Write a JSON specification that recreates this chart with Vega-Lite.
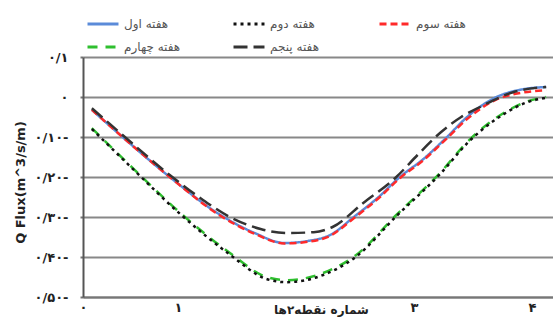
{
  "$schema": "https://vega.github.io/schema/vega-lite/v6.json",
  "width": 470,
  "height": 240,
  "autosize": {"type": "none"},
  "padding": {"left": 83, "top": 57, "right": 0, "bottom": 22},
  "background": "white",
  "config": {"view": {"stroke": null}},
  "data": {
    "values": [
      {"s": "هفته اول", "x": 0.27, "v": -0.032},
      {"s": "هفته اول", "x": 0.53, "v": -0.1},
      {"s": "هفته اول", "x": 0.93, "v": -0.2},
      {"s": "هفته اول", "x": 1.36, "v": -0.295},
      {"s": "هفته اول", "x": 1.65, "v": -0.34},
      {"s": "هفته اول", "x": 1.9, "v": -0.365},
      {"s": "هفته اول", "x": 2.1, "v": -0.36},
      {"s": "هفته اول", "x": 2.29, "v": -0.345},
      {"s": "هفته اول", "x": 2.49, "v": -0.3},
      {"s": "هفته اول", "x": 2.7, "v": -0.25},
      {"s": "هفته اول", "x": 2.88, "v": -0.2},
      {"s": "هفته اول", "x": 3.08, "v": -0.155},
      {"s": "هفته اول", "x": 3.28, "v": -0.1},
      {"s": "هفته اول", "x": 3.45, "v": -0.05},
      {"s": "هفته اول", "x": 3.7, "v": 0.0},
      {"s": "هفته اول", "x": 3.9, "v": 0.018},
      {"s": "هفته اول", "x": 4.12, "v": 0.025},

      {"s": "هفته سوم", "x": 0.27, "v": -0.032},
      {"s": "هفته سوم", "x": 0.53, "v": -0.1},
      {"s": "هفته سوم", "x": 0.93, "v": -0.2},
      {"s": "هفته سوم", "x": 1.36, "v": -0.297},
      {"s": "هفته سوم", "x": 1.65, "v": -0.342},
      {"s": "هفته سوم", "x": 1.9, "v": -0.366},
      {"s": "هفته سوم", "x": 2.1, "v": -0.362},
      {"s": "هفته سوم", "x": 2.29, "v": -0.347},
      {"s": "هفته سوم", "x": 2.49, "v": -0.303},
      {"s": "هفته سوم", "x": 2.7, "v": -0.253},
      {"s": "هفته سوم", "x": 2.88, "v": -0.203},
      {"s": "هفته سوم", "x": 3.08, "v": -0.158},
      {"s": "هفته سوم", "x": 3.28, "v": -0.103},
      {"s": "هفته سوم", "x": 3.45, "v": -0.055},
      {"s": "هفته سوم", "x": 3.7, "v": -0.006},
      {"s": "هفته سوم", "x": 3.9, "v": 0.01},
      {"s": "هفته سوم", "x": 4.12, "v": 0.017},

      {"s": "هفته چهارم", "x": 0.27, "v": -0.078},
      {"s": "هفته چهارم", "x": 0.59, "v": -0.17},
      {"s": "هفته چهارم", "x": 1.02, "v": -0.29},
      {"s": "هفته چهارم", "x": 1.44, "v": -0.39},
      {"s": "هفته چهارم", "x": 1.75, "v": -0.45},
      {"s": "هفته چهارم", "x": 1.92, "v": -0.458},
      {"s": "هفته چهارم", "x": 2.23, "v": -0.44},
      {"s": "هفته چهارم", "x": 2.51, "v": -0.395},
      {"s": "هفته چهارم", "x": 2.85, "v": -0.295},
      {"s": "هفته چهارم", "x": 3.22, "v": -0.19},
      {"s": "هفته چهارم", "x": 3.47, "v": -0.107},
      {"s": "هفته چهارم", "x": 3.76, "v": -0.04},
      {"s": "هفته چهارم", "x": 3.95, "v": -0.012},
      {"s": "هفته چهارم", "x": 4.12, "v": 0.0},

      {"s": "هفته دوم", "x": 0.27, "v": -0.08},
      {"s": "هفته دوم", "x": 0.59, "v": -0.172},
      {"s": "هفته دوم", "x": 1.02, "v": -0.293},
      {"s": "هفته دوم", "x": 1.44, "v": -0.394},
      {"s": "هفته دوم", "x": 1.75, "v": -0.455},
      {"s": "هفته دوم", "x": 1.92, "v": -0.463},
      {"s": "هفته دوم", "x": 2.23, "v": -0.445},
      {"s": "هفته دوم", "x": 2.51, "v": -0.399},
      {"s": "هفته دوم", "x": 2.85, "v": -0.298},
      {"s": "هفته دوم", "x": 3.22, "v": -0.193},
      {"s": "هفته دوم", "x": 3.47, "v": -0.11},
      {"s": "هفته دوم", "x": 3.76, "v": -0.043},
      {"s": "هفته دوم", "x": 3.95, "v": -0.014},
      {"s": "هفته دوم", "x": 4.12, "v": -0.002},

      {"s": "هفته پنجم", "x": 0.27, "v": -0.028},
      {"s": "هفته پنجم", "x": 0.53, "v": -0.095},
      {"s": "هفته پنجم", "x": 0.93, "v": -0.195},
      {"s": "هفته پنجم", "x": 1.2, "v": -0.255},
      {"s": "هفته پنجم", "x": 1.44, "v": -0.3},
      {"s": "هفته پنجم", "x": 1.7, "v": -0.33},
      {"s": "هفته پنجم", "x": 1.92, "v": -0.34},
      {"s": "هفته پنجم", "x": 2.15, "v": -0.338},
      {"s": "هفته پنجم", "x": 2.31, "v": -0.325},
      {"s": "هفته پنجم", "x": 2.57, "v": -0.265},
      {"s": "هفته پنجم", "x": 2.85, "v": -0.2},
      {"s": "هفته پنجم", "x": 3.03, "v": -0.145},
      {"s": "هفته پنجم", "x": 3.22, "v": -0.09},
      {"s": "هفته پنجم", "x": 3.4, "v": -0.05},
      {"s": "هفته پنجم", "x": 3.56, "v": -0.025},
      {"s": "هفته پنجم", "x": 3.84, "v": 0.012},
      {"s": "هفته پنجم", "x": 4.12, "v": 0.025}
    ]
  },
  "mark": {"type": "line", "interpolate": "monotone", "strokeWidth": 2.5, "clip": true},
  "encoding": {
    "x": {
      "field": "x", "type": "quantitative",
      "scale": {"domain": [0.195, 4.178], "nice": false, "zero": false},
      "axis": {
        "values": [0.195, 1, 3, 4],
        "labelExpr": "datum.value < 0.5 ? '٠' : datum.value == 1 ? '١' : datum.value == 3 ? '٣' : '۴'",
        "grid": false, "ticks": false,
        "domainColor": "#777", "domainWidth": 2,
        "labelFont": "DejaVu Sans", "labelFontSize": 13, "labelFontWeight": "bold", "labelColor": "#222",
        "labelPadding": 4, "labelBaseline": "top", "labelFlush": false,
        "title": "شماره نقطه۲ها",
        "titleFont": "DejaVu Sans", "titleFontSize": 12, "titleFontWeight": "bold", "titleColor": "#222",
        "titleX": 238, "titleY": 12, "titleBaseline": "middle", "titleAnchor": null
      }
    },
    "y": {
      "field": "v", "type": "quantitative",
      "scale": {"domain": [-0.5, 0.1], "nice": false, "zero": false},
      "axis": {
        "values": [0.1, 0, -0.1, -0.2, -0.3, -0.4, -0.5],
        "labelExpr": "['٠/۵٠-','٠/۴٠-','٠/٣٠-','٠/٢٠-','٠/١٠-','٠','٠/١'][round(datum.value*10)+5]",
        "grid": true, "gridColor": "#888", "gridWidth": 2,
        "domainColor": "#555", "domainWidth": 2,
        "ticks": true, "tickSize": 3, "tickColor": "#777", "tickWidth": 2,
        "labelFont": "DejaVu Sans", "labelFontSize": 13, "labelFontWeight": "bold", "labelColor": "#222",
        "labelPadding": 12,
        "title": "Q Flux(m^3/s/m)",
        "titleFont": "DejaVu Sans", "titleFontSize": 13, "titleFontWeight": "bold", "titleColor": "#222",
        "titleAngle": -90, "titleX": -63, "titleY": 125, "titleBaseline": "middle", "titleAlign": "center"
      }
    },
    "color": {
      "field": "s", "type": "nominal",
      "scale": {
        "domain": ["هفته اول", "هفته دوم", "هفته سوم", "هفته چهارم", "هفته پنجم"],
        "range": ["#5b8bd9", "#111111", "#ff2a2a", "#2fbf2f", "#333333"]
      },
      "legend": {
        "orient": "none", "legendX": 3, "legendY": -50,
        "direction": "horizontal", "columns": 3, "title": null, "gridAlign": "all",
        "symbolType": "stroke", "symbolSize": 960, "symbolStrokeWidth": 3,
        "labelFont": "DejaVu Sans", "labelFontSize": 12, "labelColor": "#555", "labelLimit": 200,
        "columnPadding": 46, "rowPadding": -6, "labelOffset": 4
      }
    },
    "strokeDash": {
      "field": "s", "type": "nominal",
      "scale": {
        "domain": ["هفته اول", "هفته دوم", "هفته سوم", "هفته چهارم", "هفته پنجم"],
        "range": [[1, 0], [3, 4], [7, 4], [10, 8], [14, 6]]
      },
      "legend": {
        "orient": "none", "legendX": 3, "legendY": -50,
        "direction": "horizontal", "columns": 3, "title": null, "gridAlign": "all",
        "symbolType": "stroke", "symbolSize": 960, "symbolStrokeWidth": 3,
        "labelFont": "DejaVu Sans", "labelFontSize": 12, "labelColor": "#555", "labelLimit": 200,
        "columnPadding": 46, "rowPadding": -6, "labelOffset": 4
      }
    }
  }
}
